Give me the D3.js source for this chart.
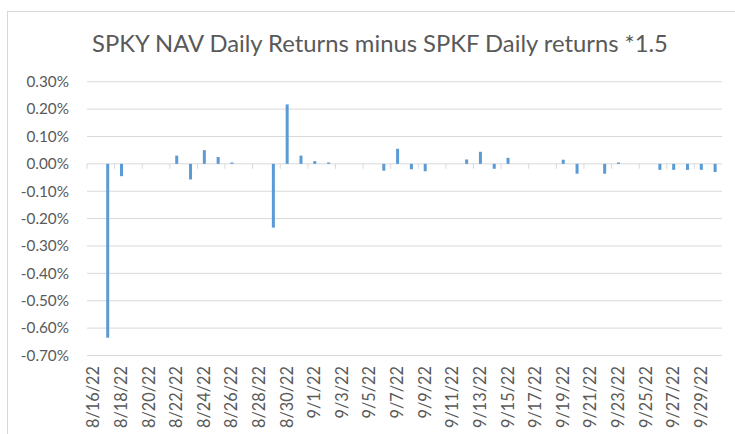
<!DOCTYPE html>
<html>
<head>
<meta charset="utf-8">
<script src="https://cdn.jsdelivr.net/npm/d3@7"></script>
<style>
  html, body { margin: 0; padding: 0; background: #fff; }
  svg { display: block; font-family: Lato, "Noto Sans", sans-serif; }
</style>
</head>
<body>
<div id="chart"></div>
<script>
const title = 'SPKY NAV Daily Returns minus SPKF Daily returns *1.5';

// one category per calendar day, 8/16/22 .. 9/30/22
const dates = [
  '8/16/22', '8/17/22', '8/18/22', '8/19/22', '8/20/22', '8/21/22', '8/22/22', '8/23/22',
  '8/24/22', '8/25/22', '8/26/22', '8/27/22', '8/28/22', '8/29/22', '8/30/22', '8/31/22',
  '9/1/22', '9/2/22', '9/3/22', '9/4/22', '9/5/22', '9/6/22', '9/7/22', '9/8/22',
  '9/9/22', '9/10/22', '9/11/22', '9/12/22', '9/13/22', '9/14/22', '9/15/22', '9/16/22',
  '9/17/22', '9/18/22', '9/19/22', '9/20/22', '9/21/22', '9/22/22', '9/23/22', '9/24/22',
  '9/25/22', '9/26/22', '9/27/22', '9/28/22', '9/29/22', '9/30/22'
];

// return difference, in %, null where no value
const diffs = [
  null, -0.635, -0.045, null, null, null, 0.030, -0.057,
  0.050, 0.025, 0.005, null, null, -0.233, 0.217, 0.030,
  0.010, 0.005, null, null, null, -0.025, 0.055, -0.020,
  -0.027, null, null, 0.016, 0.044, -0.018, 0.022, null,
  null, null, 0.015, -0.036, null, -0.036, 0.005, null,
  null, -0.022, -0.022, -0.022, -0.022, -0.030
];

const yTicks = [0.3, 0.2, 0.1, 0, -0.1, -0.2, -0.3, -0.4, -0.5, -0.6, -0.7];

const width = 735, height = 434;
const plotLeft = 87, plotRight = 722, plotTop = 81.7, plotBottom = 355.5;

const svg = d3.select('#chart').append('svg')
    .attr('width', width)
    .attr('height', height);

// chart border
svg.append('rect')
    .attr('x', 7.5).attr('y', 11.5)
    .attr('width', 740).attr('height', 440)
    .attr('fill', 'none')
    .attr('stroke', '#d9d9d9');

const x = d3.scaleBand().domain(dates).range([plotLeft, plotRight]).padding(0);
const y = d3.scaleLinear().domain([-0.7, 0.3]).range([plotBottom, plotTop]);

const pct = d3.formatLocale({decimal: '.', thousands: ',', grouping: [3], currency: ['', ''], minus: '-'})
    .format('.2f');

// gridlines
svg.append('g')
    .selectAll('line')
    .data(yTicks.filter(d => d !== 0))
    .enter()
    .append('line')
    .attr('x1', plotLeft).attr('x2', plotRight)
    .attr('y1', d => y(d)).attr('y2', d => y(d))
    .attr('stroke', '#d9d9d9')
    .attr('stroke-width', 1);

// y labels
svg.append('g')
    .selectAll('text')
    .data(yTicks)
    .enter()
    .append('text')
    .attr('x', 69)
    .attr('y', d => y(d))
    .attr('dy', '0.35em')
    .attr('text-anchor', 'end')
    .attr('fill', '#595959')
    .attr('font-size', 15.3)
    .text(d => pct(d) + '%');

// zero axis with tick marks every 2 days
const axis = svg.append('g');
axis.append('line')
    .attr('x1', plotLeft).attr('x2', plotRight)
    .attr('y1', y(0)).attr('y2', y(0))
    .attr('stroke', '#d9d9d9');
axis.selectAll('line.tick')
    .data(dates.filter((d, i) => i % 2 === 0))
    .enter()
    .append('line')
    .attr('class', 'tick')
    .attr('x1', d => x(d)).attr('x2', d => x(d))
    .attr('y1', y(0)).attr('y2', y(0) + 5)
    .attr('stroke', '#d9d9d9');

// bars
const barW = 3;
svg.append('g')
    .selectAll('rect')
    .data(dates.map((d, i) => ({date: d, v: diffs[i]})).filter(d => d.v !== null))
    .enter()
    .append('rect')
    .attr('x', d => x(d.date) + x.bandwidth() / 2 - barW / 2)
    .attr('width', barW)
    .attr('y', d => y(Math.max(0, d.v)))
    .attr('height', d => Math.max(1, Math.abs(y(d.v) - y(0))))
    .attr('fill', '#5b9bd5');

// x labels
svg.append('g')
    .selectAll('text')
    .data(dates.filter((d, i) => i % 2 === 0))
    .enter()
    .append('text')
    .attr('transform', d => `translate(${x(d) + x.bandwidth() / 2 + 5.5},366) rotate(-90)`)
    .attr('text-anchor', 'end')
    .attr('fill', '#595959')
    .attr('font-size', 16.3)
    .text(d => d);

// title
svg.append('text')
    .attr('x', 380)
    .attr('y', 52)
    .attr('text-anchor', 'middle')
    .attr('fill', '#595959')
    .attr('font-size', 23.8)
    .text(title);
</script>
</body>
</html>
